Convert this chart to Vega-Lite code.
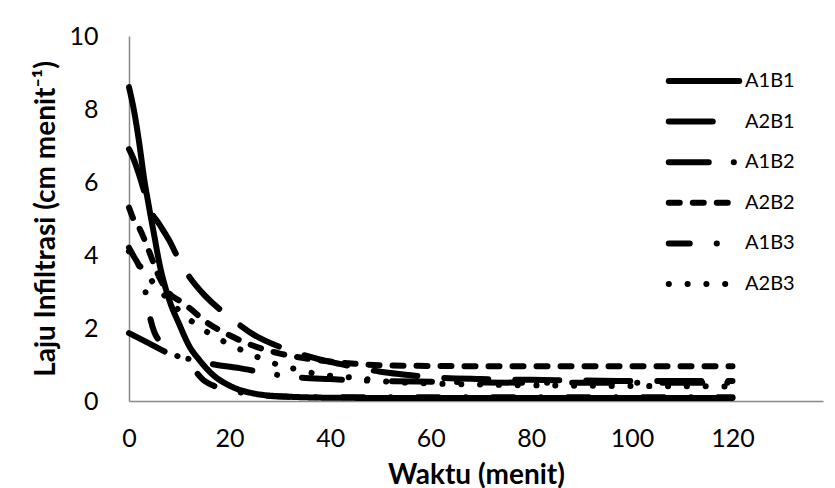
{
  "$schema": "https://vega.github.io/schema/vega-lite/v6.json",
  "autosize": "none",
  "width": 694,
  "height": 365,
  "padding": {"left": 129, "top": 36, "right": 12, "bottom": 87},
  "background": "white",
  "config": {
    "view": {"stroke": null},
    "font": "Lato",
    "axis": {"grid": false, "ticks": false, "domainColor": "#898989", "domainWidth": 1.5, "labelColor": "black", "titleColor": "black", "labelFont": "Lato", "titleFont": "Lato", "labelFontSize": 25, "titleFontSize": 28, "titleFontWeight": "bold"}
  },
  "data": {"values": [
    {"s":"A1B1","t":0,"v":8.6},{"s":"A1B1","t":1,"v":7.95},{"s":"A1B1","t":2,"v":7.1},{"s":"A1B1","t":3,"v":6.1},{"s":"A1B1","t":4,"v":5.3},{"s":"A1B1","t":5,"v":4.55},{"s":"A1B1","t":6,"v":3.8},{"s":"A1B1","t":8,"v":2.77},{"s":"A1B1","t":10,"v":2.1},{"s":"A1B1","t":12,"v":1.5},{"s":"A1B1","t":14,"v":1.12},{"s":"A1B1","t":17,"v":0.68},{"s":"A1B1","t":20,"v":0.42},{"s":"A1B1","t":25,"v":0.2},{"s":"A1B1","t":30,"v":0.13},{"s":"A1B1","t":40,"v":0.09},{"s":"A1B1","t":60,"v":0.08},{"s":"A1B1","t":80,"v":0.08},{"s":"A1B1","t":100,"v":0.08},{"s":"A1B1","t":120,"v":0.08},
    {"s":"A2B1","t":0,"v":6.9},{"s":"A2B1","t":1,"v":6.6},{"s":"A2B1","t":2,"v":6.2},{"s":"A2B1","t":3,"v":5.75},{"s":"A2B1","t":4,"v":5.3},{"s":"A2B1","t":6,"v":4.85},{"s":"A2B1","t":8,"v":4.4},{"s":"A2B1","t":10,"v":3.85},{"s":"A2B1","t":12,"v":3.4},{"s":"A2B1","t":15,"v":2.9},{"s":"A2B1","t":20,"v":2.3},{"s":"A2B1","t":25,"v":1.8},{"s":"A2B1","t":30,"v":1.48},{"s":"A2B1","t":35,"v":1.25},{"s":"A2B1","t":40,"v":1.07},{"s":"A2B1","t":45,"v":0.93},{"s":"A2B1","t":50,"v":0.8},{"s":"A2B1","t":55,"v":0.72},{"s":"A2B1","t":60,"v":0.65},{"s":"A2B1","t":70,"v":0.6},{"s":"A2B1","t":80,"v":0.58},{"s":"A2B1","t":90,"v":0.56},{"s":"A2B1","t":100,"v":0.55},{"s":"A2B1","t":110,"v":0.55},{"s":"A2B1","t":120,"v":0.55},
    {"s":"A1B2","t":0,"v":1.86},{"s":"A1B2","t":4,"v":1.58},{"s":"A1B2","t":8,"v":1.3},{"s":"A1B2","t":12,"v":1.15},{"s":"A1B2","t":17,"v":1.0},{"s":"A1B2","t":22,"v":0.9},{"s":"A1B2","t":27,"v":0.77},{"s":"A1B2","t":32,"v":0.67},{"s":"A1B2","t":40,"v":0.6},{"s":"A1B2","t":50,"v":0.55},{"s":"A1B2","t":60,"v":0.53},{"s":"A1B2","t":80,"v":0.5},{"s":"A1B2","t":100,"v":0.5},{"s":"A1B2","t":120,"v":0.5},
    {"s":"A2B2","t":0,"v":5.3},{"s":"A2B2","t":1,"v":4.95},{"s":"A2B2","t":2,"v":4.75},{"s":"A2B2","t":3,"v":4.45},{"s":"A2B2","t":4,"v":4.1},{"s":"A2B2","t":6,"v":3.4},{"s":"A2B2","t":8,"v":2.95},{"s":"A2B2","t":10,"v":2.75},{"s":"A2B2","t":12,"v":2.55},{"s":"A2B2","t":15,"v":2.2},{"s":"A2B2","t":20,"v":1.8},{"s":"A2B2","t":25,"v":1.5},{"s":"A2B2","t":30,"v":1.3},{"s":"A2B2","t":35,"v":1.17},{"s":"A2B2","t":40,"v":1.08},{"s":"A2B2","t":45,"v":1.02},{"s":"A2B2","t":50,"v":0.98},{"s":"A2B2","t":60,"v":0.96},{"s":"A2B2","t":80,"v":0.95},{"s":"A2B2","t":100,"v":0.95},{"s":"A2B2","t":120,"v":0.95},
    {"s":"A1B3","t":0,"v":4.2},{"s":"A1B3","t":1,"v":3.95},{"s":"A1B3","t":2,"v":3.7},{"s":"A1B3","t":3,"v":3.2},{"s":"A1B3","t":4,"v":2.4},{"s":"A1B3","t":5,"v":1.9},{"s":"A1B3","t":6,"v":1.65},{"s":"A1B3","t":8,"v":1.35},{"s":"A1B3","t":10,"v":1.2},{"s":"A1B3","t":12,"v":1.0},{"s":"A1B3","t":15,"v":0.55},{"s":"A1B3","t":20,"v":0.3},{"s":"A1B3","t":25,"v":0.18},{"s":"A1B3","t":30,"v":0.12},{"s":"A1B3","t":40,"v":0.1},{"s":"A1B3","t":60,"v":0.1},{"s":"A1B3","t":80,"v":0.1},{"s":"A1B3","t":100,"v":0.1},{"s":"A1B3","t":120,"v":0.1},
    {"s":"A2B3","t":0,"v":4.1},{"s":"A2B3","t":2,"v":3.73},{"s":"A2B3","t":4,"v":3.38},{"s":"A2B3","t":6,"v":3.05},{"s":"A2B3","t":8,"v":2.75},{"s":"A2B3","t":11,"v":2.35},{"s":"A2B3","t":14,"v":2.03},{"s":"A2B3","t":17,"v":1.77},{"s":"A2B3","t":20,"v":1.55},{"s":"A2B3","t":24,"v":1.3},{"s":"A2B3","t":27,"v":1.12},{"s":"A2B3","t":30,"v":0.98},{"s":"A2B3","t":34,"v":0.85},{"s":"A2B3","t":38,"v":0.72},{"s":"A2B3","t":42,"v":0.67},{"s":"A2B3","t":46,"v":0.62},{"s":"A2B3","t":50,"v":0.55},{"s":"A2B3","t":60,"v":0.48},{"s":"A2B3","t":70,"v":0.45},{"s":"A2B3","t":80,"v":0.43},{"s":"A2B3","t":100,"v":0.41},{"s":"A2B3","t":120,"v":0.4}
  ]},
  "mark": {"type": "line", "color": "black", "strokeCap": "round", "strokeJoin": "round", "interpolate": "monotone"},
  "encoding": {
    "x": {"field": "t", "type": "quantitative", "scale": {"domain": [0, 138], "nice": false}, "axis": {"values": [0, 20, 40, 60, 80, 100, 120], "labelPadding": 25, "titlePadding": 10, "title": "Waktu (menit)", "labelFlush": false, "labelOverlap": false}},
    "y": {"field": "v", "type": "quantitative", "scale": {"domain": [0, 10], "nice": false}, "axis": {"values": [0, 2, 4, 6, 8, 10], "labelPadding": 31, "titlePadding": 8, "title": "Laju Infiltrasi (cm menit⁻¹)", "labelFlush": false}},
    "strokeWidth": {"field": "s", "type": "nominal", "scale": {"domain": ["A1B1", "A2B1", "A1B2", "A2B2", "A1B3", "A2B3"], "range": [6, 6, 6, 6, 6, 8.5]}, "legend": null},
    "strokeDash": {"field": "s", "type": "nominal",
      "scale": {"domain": ["A1B1", "A2B1", "A1B2", "A2B2", "A1B3", "A2B3"], "range": [[1, 0], [44, 27], [40, 25, 0.1, 25], [11, 13], [21, 27, 0.1, 27], [0.1, 18.7]]},
      "legend": {"title": null, "orient": "none", "legendX": 560, "legendY": 30, "padding": 0, "symbolType": "M-3,0H3", "symbolSize": 552, "symbolStrokeWidth": 6, "symbolStrokeColor": "black", "labelFont": "Lato", "labelFontSize": 20, "labelColor": "black", "labelOffset": 26, "rowPadding": 13.6, "labelLimit": 200,
        "encode": {"symbols": {"update": {"strokeCap": {"value": "round"}, "fill": {"value": "transparent"}, "strokeWidth": {"signal": "datum.value === 'A2B3' ? 8 : 6"}}}}}
    }
  }
}
